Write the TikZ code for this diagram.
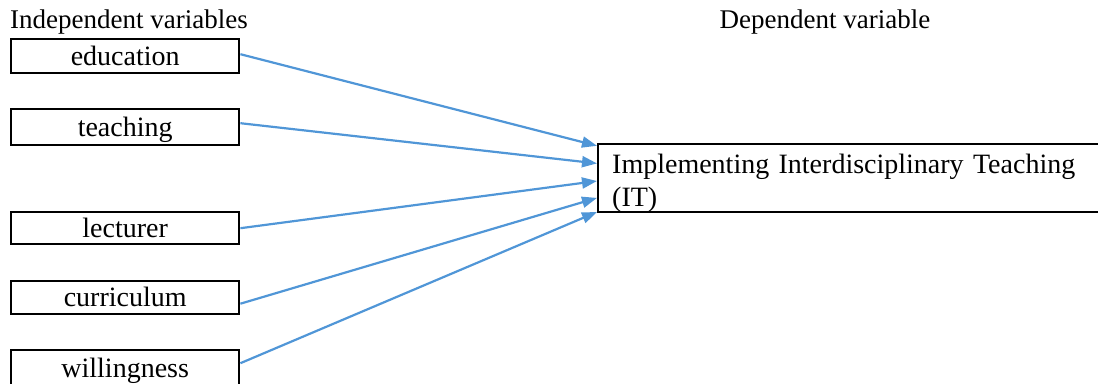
\documentclass[tikz,border=0pt]{standalone}
\usepackage{fontspec}
\setmainfont{Liberation Serif}
\usetikzlibrary{arrows.meta,calc}
\definecolor{arrblue}{RGB}{80,150,215}
\begin{document}
\begin{tikzpicture}[x=1pt,y=-1pt,
  ivbox/.style={draw=black, line width=2.4pt, minimum width=228pt, minimum height=34pt,
    inner sep=0pt, text height=19pt, text depth=1pt, font=\fontsize{28}{32}\selectfont, anchor=north west},
  heading/.style={font=\fontsize{27}{31}\selectfont, inner sep=0pt},
  conn/.style={draw=arrblue, line width=2.2pt, -{Triangle[length=15pt,width=11pt]}}]
\useasboundingbox (0,0) rectangle (1098,383);
\clip (0,0) rectangle (1098,383);
\node[heading, anchor=base west] (indep) at (10,28) {Independent variables};
\node[heading, anchor=base] (dep) at (825,28) {Dependent variable};
\node[ivbox] (edu) at (10,38) {education};
\node[ivbox, minimum height=36pt] (teach) at (10,108) {teaching};
\node[ivbox, minimum height=32pt] (lect) at (10,211) {lecturer};
\node[ivbox, minimum height=33pt] (curr) at (10,280) {curriculum};
\node[ivbox, minimum height=36pt] (will) at (10,349) {willingness};
\node[draw=black, line width=2.4pt, anchor=north west, minimum width=507pt, minimum height=68pt,
  text width=479pt, inner xsep=14pt, inner ysep=0pt, align=left,
  font=\fontsize{28}{33}\selectfont] (it) at (597,143)
  {\rule{0pt}{29pt}Implementing Interdisciplinary Teaching\\(IT)};
\draw[conn] ($(edu.east)+(0,-2)$) -- ($(it.north west)!0.04!(it.south west)$);
\draw[conn] ($(teach.east)+(0,-4)$) -- ($(it.north west)!0.29!(it.south west)$);
\draw[conn] (lect.east) -- ($(it.north west)!0.54!(it.south west)$);
\draw[conn] ($(curr.east)+(0,6)$) -- ($(it.north west)!0.78!(it.south west)$);
\draw[conn] ($(will.east)+(0,-5)$) -- ($(it.north west)!0.98!(it.south west)$);
\end{tikzpicture}
\end{document}
